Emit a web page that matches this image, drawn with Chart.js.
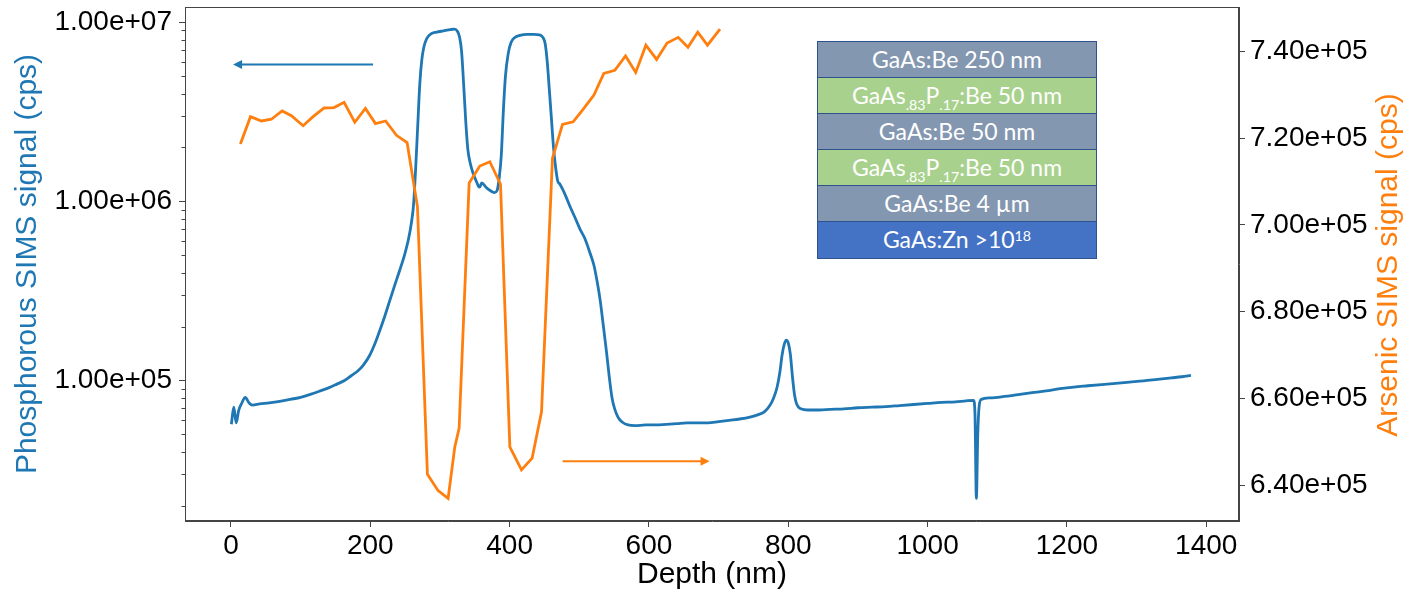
<!DOCTYPE html>
<html>
<head>
<meta charset="utf-8">
<script src="https://cdn.jsdelivr.net/npm/chart.js@4.4.1/dist/chart.umd.min.js"></script>
<style>
  html, body { margin: 0; padding: 0; background: #fff; }
  #wrap { position: relative; width: 1405px; height: 593px; }
  #layers { position: absolute; left: 817px; top: 41px; width: 280px; border: 1px solid #2f528f; box-sizing: border-box;
            font-family: Lato, "Open Sans", sans-serif; font-size: 23px; color: #fff; }
  .row { height: 36px; line-height: 35px; text-align: center; border-bottom: 1px solid #2f528f; box-sizing: border-box; }
  .row:last-child { height: 36px; border-bottom: none; }
  .be { background: #8497b0; }
  .gap { background: #a9d18e; }
  .zn { background: #4472c4; }
  sub { font-size: 62%; vertical-align: baseline; position: relative; top: 0.4em; line-height: 0; }
  sup { font-size: 62%; vertical-align: baseline; position: relative; top: -0.5em; line-height: 0; }
</style>
</head>
<body>
<div id="wrap">
  <canvas id="sims" width="1405" height="593"></canvas>
  <div id="layers">
    <div class="row be">GaAs:Be 250 nm</div>
    <div class="row gap">GaAs<sub>.83</sub>P<sub>.17</sub>:Be 50 nm</div>
    <div class="row be">GaAs:Be 50 nm</div>
    <div class="row gap">GaAs<sub>.83</sub>P<sub>.17</sub>:Be 50 nm</div>
    <div class="row be">GaAs:Be 4 µm</div>
    <div class="row zn">GaAs:Zn &gt;10<sup>18</sup></div>
  </div>
</div>
<script>
// phosphorus signal (left, log axis)
const pDepth = [0.6, 4, 7.5, 11, 15, 20.5, 26, 31, 41, 55, 70, 85, 100, 115, 128, 140, 152, 163, 172, 182,
  190, 199, 207, 214, 221, 228, 235, 242, 249, 255, 259, 262, 265, 268, 271, 274, 277, 281, 287, 295,
  305, 315, 321, 325, 328, 331, 334, 337, 340, 344, 348, 352, 355, 357, 360, 366, 372, 378, 382, 385,
  388, 391, 394, 398, 402, 407, 415, 425, 435, 443, 448, 451, 454, 457, 460, 463, 466, 469, 472, 476,
  481, 487, 494, 501, 508, 515, 521, 526, 530, 534, 539, 543, 547, 551, 556, 562, 570, 580, 595, 610,
  625, 640, 655, 670, 685, 700, 715, 730, 745, 757, 766, 773, 779, 784, 788, 791, 794, 797, 800, 803,
  806, 809, 812, 818, 828, 845, 860, 880, 900, 920, 940, 960, 980, 1000, 1020, 1040, 1055, 1066, 1068, 1070,
  1072, 1074, 1077, 1090, 1110, 1130, 1150, 1170, 1190, 1210, 1230, 1250, 1270, 1290, 1310, 1330, 1350, 1365, 1378];
const pSignal = [5.7e4, 7.1e4, 5.8e4, 6.8e4, 7.4e4, 8.05e4, 7.5e4, 7.3e4, 7.4e4, 7.5e4, 7.65e4, 7.85e4, 8.05e4, 8.4e4, 8.75e4, 9.1e4, 9.55e4, 1.0e5, 1.06e5, 1.13e5,
  1.22e5, 1.38e5, 1.62e5, 1.92e5, 2.3e5, 2.8e5, 3.4e5, 4.1e5, 5.0e5, 6.2e5, 7.6e5, 9.5e5, 1.5e6, 2.6e6, 4.5e6, 6.2e6, 7.3e6, 8.1e6, 8.6e6, 8.8e6,
  8.95e6, 9.1e6, 9.15e6, 8.9e6, 8.3e6, 6.9e6, 4.5e6, 2.8e6, 1.95e6, 1.6e6, 1.42e6, 1.3e6, 1.22e6, 1.2e6, 1.27e6, 1.2e6, 1.15e6, 1.12e6, 1.15e6, 1.35e6,
  1.8e6, 3.2e6, 5.0e6, 6.7e6, 7.7e6, 8.2e6, 8.45e6, 8.55e6, 8.55e6, 8.5e6, 8.2e6, 7.6e6, 6.0e6, 4.2e6, 2.9e6, 2.0e6, 1.55e6, 1.3e6, 1.25e6, 1.17e6,
  1.06e6, 9.3e5, 8.1e5, 7.0e5, 6.2e5, 5.2e5, 4.4e5, 3.5e5, 2.8e5, 2.1e5, 1.45e5, 1.05e5, 8.0e4, 6.9e4, 6.2e4, 5.85e4, 5.65e4, 5.6e4, 5.65e4, 5.65e4,
  5.7e4, 5.75e4, 5.8e4, 5.8e4, 5.8e4, 5.9e4, 6.0e4, 6.1e4, 6.25e4, 6.45e4, 6.7e4, 7.2e4, 8.0e4, 9.2e4, 1.12e5, 1.38e5, 1.58e5, 1.68e5, 1.62e5, 1.4e5,
  1.05e5, 8.3e4, 7.4e4, 6.95e4, 6.85e4, 6.85e4, 6.9e4, 6.95e4, 7.05e4, 7.1e4, 7.15e4, 7.25e4, 7.35e4, 7.45e4, 7.55e4, 7.6e4, 7.7e4, 7.75e4, 6.5e4, 2.2e4,
  5.0e4, 7.2e4, 7.85e4, 8.0e4, 8.15e4, 8.35e4, 8.55e4, 8.75e4, 9.0e4, 9.2e4, 9.35e4, 9.5e4, 9.65e4, 9.8e4, 9.95e4, 1.015e5, 1.035e5, 1.05e5, 1.07e5];

// arsenic signal (right, linear axis)
const asDepth = [13.5, 28, 43.7, 58, 73.4, 86.8, 103.5, 117.9, 133.7, 148, 162.4, 177.7, 193, 207.4, 222, 237.6, 252.8, 267.7,
  282, 297.3, 311.7, 321.3, 327.5, 341.9, 357.2, 371.6, 386.9, 400.3, 417, 432.3, 445.8, 461.5, 475.9, 491.2, 506, 521,
  535.2, 551, 566.4, 581, 595.6, 611, 626, 642, 656, 670, 684, 702];
const asSignal = [7.187e5, 7.250e5, 7.240e5, 7.244e5, 7.263e5, 7.252e5, 7.229e5, 7.250e5, 7.270e5, 7.271e5, 7.283e5, 7.237e5, 7.269e5, 7.234e5, 7.240e5, 7.207e5, 7.190e5, 7.042e5,
  6.425e5, 6.387e5, 6.369e5, 6.488e5, 6.531e5, 7.097e5, 7.136e5, 7.146e5, 7.094e5, 6.488e5, 6.435e5, 6.462e5, 6.569e5, 7.154e5, 7.232e5, 7.238e5, 7.268e5, 7.300e5,
  7.350e5, 7.357e5, 7.390e5, 7.352e5, 7.415e5, 7.382e5, 7.420e5, 7.433e5, 7.410e5, 7.445e5, 7.415e5, 7.452e5];

const depthTicks = [0, 200, 400, 600, 800, 1000, 1200, 1400];
const pDecades = [1e4, 1e5, 1e6, 1e7];
const asTicks = [6.4e5, 6.6e5, 6.8e5, 7.0e5, 7.2e5, 7.4e5];

const pMin = 16443, pMax = 1.2162e7;

// direction arrows: [x0, y0] -> [x1, y1] in data units
const arrows = [
  { axis: "yP", from: [204, 5.8e6], to: [3, 5.8e6], color: "#1f77b4" },
  { axis: "yAs", from: [476, 6.455e5], to: [687, 6.455e5], color: "#ff7f0e" },
];

const FONT = "'Liberation Sans', Arial, sans-serif";
const AXIS = "#444";

const sci = (v) => {
  const [m, e] = v.toExponential(2).split("e");
  const n = parseInt(e, 10);
  return `${m}e${n < 0 ? "-" : "+"}${String(Math.abs(n)).padStart(2, "0")}`;
};

// 1..9 x 10^n inside the axis range; only the decades get a label
const pTicks = [];
pDecades.forEach((d) => { for (let k = 1; k < 10; k++) if (k * d >= pMin && k * d <= pMax) pTicks.push(k * d); });
const isDecade = (v) => pDecades.includes(v);

const noPad = (s) => { s.paddingTop = 0; s.paddingBottom = 0; s.paddingLeft = 0; s.paddingRight = 0; };

const extras = {
  id: "extras",
  afterDraw(chart) {
    const { ctx, chartArea: a, scales } = chart;
    ctx.save();
    // minor ticks on the log axis
    ctx.strokeStyle = AXIS;
    ctx.lineWidth = 1;
    ctx.beginPath();
    scales.yP.ticks.forEach((t) => {
      if (isDecade(t.value)) return;
      const y = Math.round(scales.yP.getPixelForValue(t.value)) + 0.5;
      ctx.moveTo(a.left - 3.5, y);
      ctx.lineTo(a.left, y);
    });
    ctx.stroke();
    // full frame
    ctx.strokeRect(a.left + 0.5, a.top + 0.5, a.right - a.left - 1, a.bottom - a.top - 1);
    // arrows
    arrows.forEach((ar) => {
      const ys = scales[ar.axis];
      const x0 = scales.x.getPixelForValue(ar.from[0]), y0 = ys.getPixelForValue(ar.from[1]);
      const x1 = scales.x.getPixelForValue(ar.to[0]), y1 = ys.getPixelForValue(ar.to[1]);
      const ang = Math.atan2(y1 - y0, x1 - x0);
      ctx.strokeStyle = ar.color;
      ctx.fillStyle = ar.color;
      ctx.lineWidth = 2;
      ctx.beginPath();
      ctx.moveTo(x0, y0);
      ctx.lineTo(x1 - 6 * Math.cos(ang), y1 - 6 * Math.sin(ang));
      ctx.stroke();
      ctx.beginPath();
      ctx.moveTo(x1, y1);
      ctx.lineTo(x1 - 9 * Math.cos(ang) + 4.5 * Math.sin(ang), y1 - 9 * Math.sin(ang) - 4.5 * Math.cos(ang));
      ctx.lineTo(x1 - 9 * Math.cos(ang) - 4.5 * Math.sin(ang), y1 - 9 * Math.sin(ang) + 4.5 * Math.cos(ang));
      ctx.closePath();
      ctx.fill();
    });
    // right axis title, reading bottom to top like the left one
    ctx.translate(1389, 265);
    ctx.rotate(-Math.PI / 2);
    ctx.fillStyle = "#ff7f0e";
    ctx.font = `30px ${FONT}`;
    ctx.textAlign = "center";
    ctx.textBaseline = "middle";
    ctx.fillText("Arsenic SIMS signal (cps)", 0, 0);
    ctx.restore();
  },
};

const tickFont = { family: FONT, size: 28 };

new Chart(document.getElementById("sims"), {
  type: "line",
  data: {
    datasets: [
      { label: "As", yAxisID: "yAs", order: 0,
        data: asDepth.map((x, i) => ({ x, y: asSignal[i] })),
        borderColor: "#ff7f0e", borderWidth: 2.8, pointRadius: 0, tension: 0, fill: false },
      { label: "P", yAxisID: "yP", order: 1,
        data: pDepth.map((x, i) => ({ x, y: pSignal[i] })),
        borderColor: "#1f77b4", borderWidth: 2.8, pointRadius: 0, cubicInterpolationMode: "monotone", fill: false },
    ],
  },
  options: {
    responsive: false,
    animation: false,
    layout: { padding: { top: 7, left: 0, right: 0, bottom: 0 } },
    plugins: { legend: { display: false }, tooltip: { enabled: false } },
    scales: {
      x: {
        type: "linear", position: "bottom", min: -66, max: 1447,
        afterBuildTicks: (s) => { s.ticks = depthTicks.map((v) => ({ value: v })); },
        afterFit: (s) => { s.height = 72; noPad(s); },
        grid: { drawOnChartArea: false, tickLength: 6, tickColor: AXIS },
        border: { color: AXIS },
        ticks: { font: tickFont, color: "#000", padding: 2, autoSkip: false, maxRotation: 0,
                 callback: (v) => String(v) },
        title: { display: true, text: "Depth (nm)", color: "#000", font: { family: FONT, size: 30 }, padding: { top: 0, bottom: 0 } },
      },
      yP: {
        type: "logarithmic", position: "left", min: pMin, max: pMax,
        afterBuildTicks: (s) => { s.ticks = pTicks.map((v) => ({ value: v })); },
        afterFit: (s) => { s.width = 185; noPad(s); },
        grid: { drawOnChartArea: false, tickLength: 6,
                tickColor: (c) => (c.tick && isDecade(c.tick.value) ? AXIS : "rgba(0,0,0,0)") },
        border: { color: AXIS },
        ticks: { font: tickFont, color: "#000", padding: 7, autoSkip: false,
                 callback: (v) => (isDecade(v) ? sci(v) : "") },
        title: { display: true, text: "Phosphorous SIMS signal (cps)", color: "#1f77b4",
                 font: { family: FONT, size: 30 }, padding: { top: 9.5, bottom: 0 } },
      },
      yAs: {
        type: "linear", position: "right", min: 6.317e5, max: 7.503e5,
        afterBuildTicks: (s) => { s.ticks = asTicks.map((v) => ({ value: v })); },
        afterFit: (s) => { s.width = 166; noPad(s); },
        grid: { drawOnChartArea: false, tickLength: 6, tickColor: AXIS },
        border: { color: AXIS },
        ticks: { font: tickFont, color: "#000", padding: 5, autoSkip: false, callback: (v) => sci(v) },
      },
    },
  },
  plugins: [extras],
});
</script>
</body>
</html>
